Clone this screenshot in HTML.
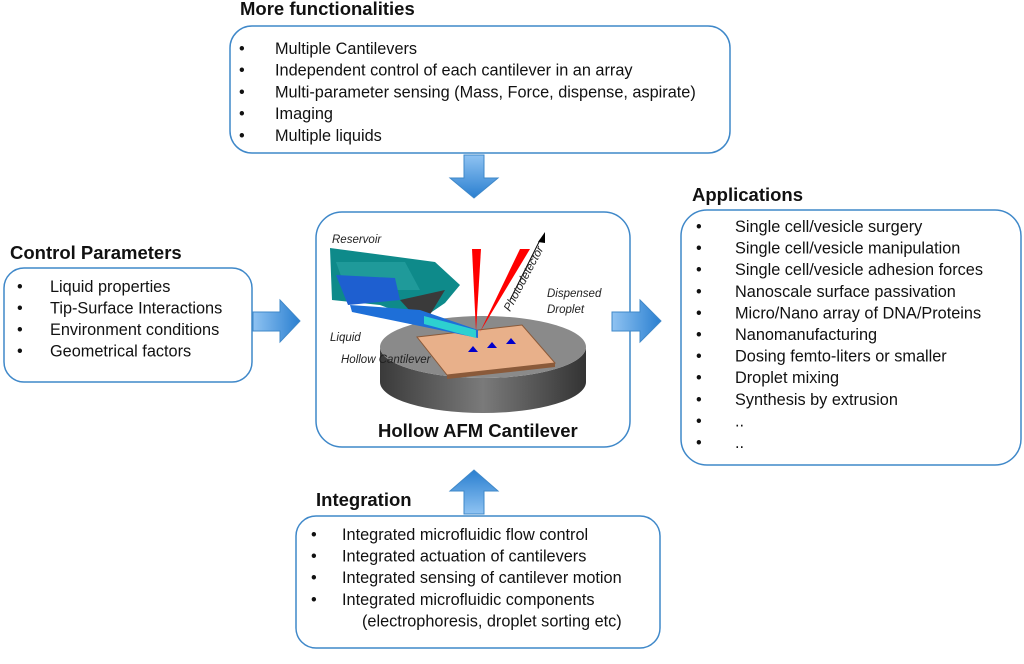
<!DOCTYPE html>
<html><head><meta charset="utf-8"><style>
body{margin:0;background:#fff;width:1024px;height:659px;overflow:hidden;font-family:"Liberation Sans",sans-serif}
svg text{font-family:"Liberation Sans",sans-serif}
</style></head><body>
<svg width="1024" height="659" viewBox="0 0 1024 659" xmlns="http://www.w3.org/2000/svg">
<defs>
<linearGradient id="ah" x1="0" y1="0" x2="1" y2="0"><stop offset="0" stop-color="#8fc3f2"/><stop offset="1" stop-color="#2a7fd0"/></linearGradient>
<linearGradient id="av" x1="0" y1="0" x2="0" y2="1"><stop offset="0" stop-color="#8fc3f2"/><stop offset="1" stop-color="#2a7fd0"/></linearGradient>
<linearGradient id="av2" x1="0" y1="1" x2="0" y2="0"><stop offset="0" stop-color="#8fc3f2"/><stop offset="1" stop-color="#2a7fd0"/></linearGradient>
<linearGradient id="disc" x1="0" y1="0" x2="1" y2="0"><stop offset="0" stop-color="#3a3a3a"/><stop offset="0.5" stop-color="#7a7a7a"/><stop offset="1" stop-color="#333"/></linearGradient>
</defs>
<g fill="#fff" stroke="#3f88c9" stroke-width="1.5">
<rect x="230" y="26" width="500" height="127" rx="22"/>
<rect x="316" y="212" width="314" height="235" rx="26"/>
<rect x="4" y="268" width="248" height="114" rx="20"/>
<rect x="681" y="210" width="340" height="255" rx="26"/>
<rect x="296" y="516" width="364" height="132" rx="20"/>
</g>
<polygon points="464,155 484,155 484,178 498,178 474,198 450,178 464,178" fill="url(#av)" stroke="#3f88c9"/>
<polygon points="253,312 280,312 280,300 300,321 280,342 280,331 253,331" fill="url(#ah)" stroke="#3f88c9"/>
<polygon points="612,312 640,312 640,300 661,321 640,342 640,331 612,331" fill="url(#ah)" stroke="#3f88c9"/>
<polygon points="464,514 484,514 484,491 498,491 474,470 450,491 464,491" fill="url(#av2)" stroke="#3f88c9"/>
<g font-weight="bold" font-size="18.5" fill="#111">
<text x="240" y="15">More functionalities</text>
<text x="10" y="259">Control Parameters</text>
<text x="692" y="201">Applications</text>
<text x="316" y="506">Integration</text>
</g>
<g font-size="16.3" fill="#111">
<g transform="translate(0,54)">
<text x="239" y="0">•</text><text x="275" y="0">Multiple Cantilevers</text>
<text x="239" y="21.7">•</text><text x="275" y="21.7">Independent control of each cantilever in an array</text>
<text x="239" y="43.4">•</text><text x="275" y="43.4">Multi-parameter sensing (Mass, Force, dispense, aspirate)</text>
<text x="239" y="65.1">•</text><text x="275" y="65.1">Imaging</text>
<text x="239" y="86.8">•</text><text x="275" y="86.8">Multiple liquids</text>
</g>
<g transform="translate(0,292)">
<text x="17" y="0">•</text><text x="50" y="0">Liquid properties</text>
<text x="17" y="21.5">•</text><text x="50" y="21.5">Tip-Surface Interactions</text>
<text x="17" y="43">•</text><text x="50" y="43">Environment conditions</text>
<text x="17" y="64.5">•</text><text x="50" y="64.5">Geometrical factors</text>
</g>
<g transform="translate(0,232)">
<text x="696" y="0">•</text><text x="735" y="0">Single cell/vesicle surgery</text>
<text x="696" y="21.6">•</text><text x="735" y="21.6">Single cell/vesicle manipulation</text>
<text x="696" y="43.2">•</text><text x="735" y="43.2">Single cell/vesicle adhesion forces</text>
<text x="696" y="64.8">•</text><text x="735" y="64.8">Nanoscale surface passivation</text>
<text x="696" y="86.4">•</text><text x="735" y="86.4">Micro/Nano array of DNA/Proteins</text>
<text x="696" y="108">•</text><text x="735" y="108">Nanomanufacturing</text>
<text x="696" y="129.6">•</text><text x="735" y="129.6">Dosing femto-liters or smaller</text>
<text x="696" y="151.2">•</text><text x="735" y="151.2">Droplet mixing</text>
<text x="696" y="172.8">•</text><text x="735" y="172.8">Synthesis by extrusion</text>
<text x="696" y="194.4">•</text><text x="735" y="194.4">..</text>
<text x="696" y="216">•</text><text x="735" y="216">..</text>
</g>
<g transform="translate(0,540)">
<text x="311" y="0">•</text><text x="342" y="0">Integrated microfluidic flow control</text>
<text x="311" y="21.6">•</text><text x="342" y="21.6">Integrated actuation of cantilevers</text>
<text x="311" y="43.2">•</text><text x="342" y="43.2">Integrated sensing of cantilever motion</text>
<text x="311" y="64.8">•</text><text x="342" y="64.8">Integrated microfluidic components</text>
<text x="362" y="86.4">(electrophoresis, droplet sorting etc)</text>
</g>
</g>
<!-- center illustration -->
<g>
<path d="M380,347 A103,31 0 0 0 586,347 L586,382 A103,31 0 0 1 380,382 Z" fill="url(#disc)"/>
<ellipse cx="483" cy="347" rx="103" ry="31" fill="#8a8a8a"/>
<polygon points="417,337 522,325 555,363 447,375" fill="#e8b08a" stroke="#8a5a3a"/>
<polygon points="447,375 555,363 555,367 447,379" fill="#8a5a3a"/>
<polygon points="330,248 435,262 460,285 445,303 420,320 380,305 332,300" fill="#0e8a8a"/>
<polygon points="336,262 405,262 420,290 346,290" fill="#1f9a9a"/>
<polygon points="336,275 395,278 400,300 348,305" fill="#1e5fd0"/>
<polygon points="400,300 445,290 428,318 420,322" fill="#3a3a3a"/>
<polygon points="350,305 420,310 478,330 478,338 352,312" fill="#1e6fd8"/>
<polygon points="424,316 476,330 476,338 424,324" fill="#2dd0d0"/>
<polygon points="472,249 481,249 476,332" fill="#f00"/>
<polygon points="520,249 530,249 480,332" fill="#f00"/>
<line x1="510" y1="300" x2="540" y2="240" stroke="#000"/>
<polygon points="545,232 538,242 545,243" fill="#000"/>
<path d="M468,352 l5,-6 5,6z M487,348 l5,-6 5,6z M506,344 l5,-6 5,6z" fill="#00c"/>
<g font-size="11.5" font-style="italic" fill="#222">
<text x="332" y="243">Reservoir</text>
<text x="330" y="341">Liquid</text>
<text x="341" y="363">Hollow Cantilever</text>
<text x="547" y="297">Dispensed</text>
<text x="547" y="313">Droplet</text>
<text x="0" y="0" transform="translate(510,312) rotate(-62)">Photodetector</text>
</g>
<text x="378" y="437" font-size="18.5" font-weight="bold" fill="#111">Hollow AFM Cantilever</text>
</g>
</svg>
</body></html>
